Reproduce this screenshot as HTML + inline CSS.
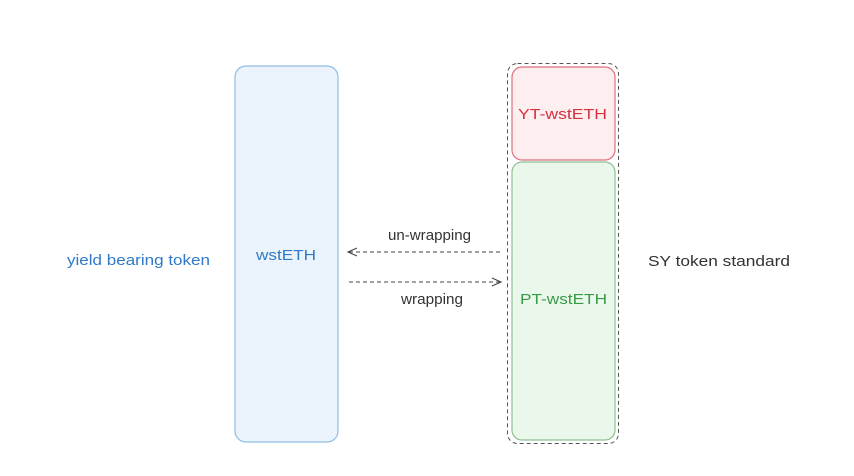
<!DOCTYPE html>
<html><head><meta charset="utf-8"><style>
html,body{margin:0;padding:0;background:#fff;width:854px;height:476px;overflow:hidden}
svg text{font-family:"Liberation Sans",sans-serif;font-size:15px}
</style></head><body>
<svg width="854" height="476" viewBox="0 0 854 476" xmlns="http://www.w3.org/2000/svg">
<rect x="235" y="66" width="103" height="376" rx="11" fill="#ebf4fc" stroke="#8fbde6" stroke-width="1.2"/>
<rect x="507.5" y="63.5" width="111" height="380" rx="10" fill="none" stroke="#555" stroke-width="1" stroke-dasharray="4 3"/>
<rect x="512" y="67" width="103" height="93" rx="10" fill="#fdeef0" stroke="#e0707c" stroke-width="1.2"/>
<rect x="512" y="162" width="103" height="278" rx="10" fill="#e9f8ea" stroke="#8fbf95" stroke-width="1.2"/>
<text x="256" y="260" textLength="60" lengthAdjust="spacingAndGlyphs" fill="#2f7ac8">wstETH</text>
<text x="518" y="119" textLength="89" lengthAdjust="spacingAndGlyphs" fill="#d9303f">YT-wstETH</text>
<text x="520" y="304" textLength="87" lengthAdjust="spacingAndGlyphs" fill="#3a9a48">PT-wstETH</text>
<text x="67" y="265" textLength="143" lengthAdjust="spacingAndGlyphs" fill="#2f7ac8">yield bearing token</text>
<text x="648" y="266" textLength="142" lengthAdjust="spacingAndGlyphs" fill="#333">SY token standard</text>
<text x="388" y="240" textLength="83" lengthAdjust="spacingAndGlyphs" fill="#333">un-wrapping</text>
<text x="401" y="304" textLength="62" lengthAdjust="spacingAndGlyphs" fill="#333">wrapping</text>
<g stroke="#444" stroke-width="1.1" fill="none">
<line x1="349" y1="252" x2="500" y2="252" stroke-dasharray="4 3"/>
<polyline points="357,248 348,252 357,256"/>
<line x1="349" y1="282" x2="500" y2="282" stroke-dasharray="4 3"/>
<polyline points="492,278 501,282 492,286"/>
</g>
</svg>
</body></html>
